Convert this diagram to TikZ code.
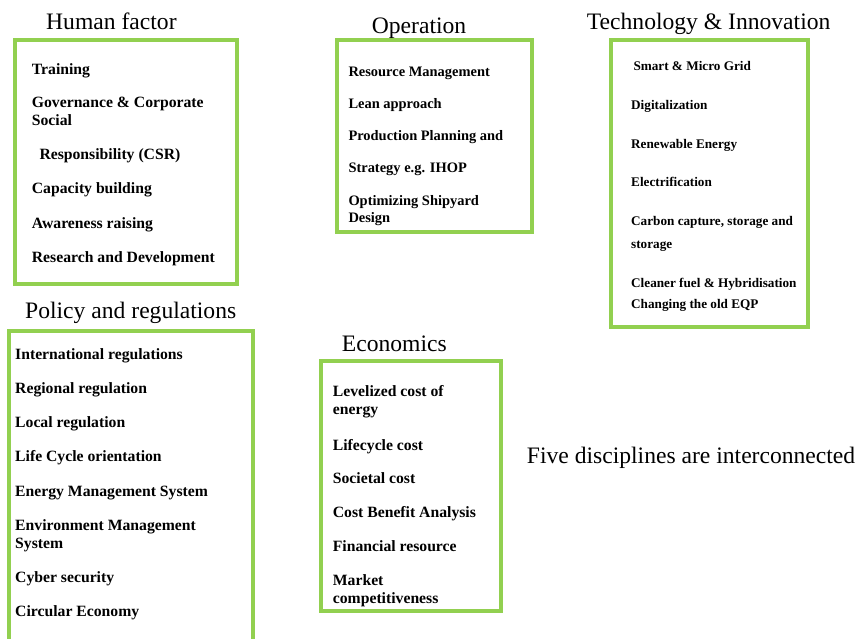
\documentclass[tikz,border=0pt]{standalone}
\usepackage{fontspec}
\setmainfont{Liberation Serif}
\definecolor{boxgreen}{RGB}{146,208,80}
\tikzset{
  x=1pt, y=-1pt,
  panel/.style={draw=boxgreen, line width=4pt},
  ttl/.style={anchor=base west, inner sep=0pt, font=\fontsize{23.6}{26}\selectfont},
  itemA/.style={anchor=base west, inner sep=0pt, font=\fontsize{15.7}{18}\selectfont\bfseries},
  itemB/.style={anchor=base west, inner sep=0pt, font=\fontsize{14.45}{17}\selectfont\bfseries},
  itemC/.style={anchor=base west, inner sep=0pt, font=\fontsize{13.2}{16}\selectfont\bfseries},
}
\begin{document}
\begin{tikzpicture}
\clip (0,0) rectangle (862,638);
\fill[white] (0,0) rectangle (862,638);

% boxes
\draw[panel] (15,40) rectangle (237,284);
\draw[panel] (337,39.5) rectangle (532,232);
\draw[panel] (610.5,39.5) rectangle (808,326.5);
\draw[panel] (8.7,331) rectangle (252.5,660);
\draw[panel] (320.5,361.3) rectangle (501,610.5);

% titles
\node[ttl] (tHum) at (46,29.5) {Human factor};
\node[ttl] (tOp) at (371.7,33) {Operation};
\node[ttl] (tTech) at (586.7,29.5) {Technology \& Innovation};
\node[ttl] (tPol) at (25,318.3) {Policy and regulations};
\node[ttl] (tEco) at (341.7,351.7) {Economics};
\node[ttl] (tFive) at (526.7,463.3) {Five disciplines are interconnected};

% Human factor
\node[itemA] (h1) at (31.7,74) {Training};
\node[itemA] (h2) at (31.7,107.3) {Governance \& Corporate};
\node[itemA] (h2b) at (31.7,125) {Social};
\node[itemA] (h3) at (39.3,159.3) {Responsibility (CSR)};
\node[itemA] (h4) at (31.7,193.3) {Capacity building};
\node[itemA] (h5) at (31.7,228.3) {Awareness raising};
\node[itemA] (h6) at (31.7,262.3) {Research and Development};

% Operation
\node[itemB] (o1) at (348.3,76) {Resource Management};
\node[itemB] (o2) at (348.3,108.3) {Lean approach};
\node[itemB] (o3) at (348.3,140.7) {Production Planning and};
\node[itemB] (o4) at (348.3,172.7) {Strategy e.g. IHOP};
\node[itemB] (o5) at (348.3,205.7) {Optimizing Shipyard};
\node[itemB] (o5b) at (348.3,222.7) {Design};

% Technology
\node[itemC] (t1) at (633.3,70) {Smart \& Micro Grid};
\node[itemC] (t2) at (631,109.3) {Digitalization};
\node[itemC] (t3) at (631,148.3) {Renewable Energy};
\node[itemC] (t4) at (631,186) {Electrification};
\node[itemC] (t5) at (631,225) {Carbon capture, storage and};
\node[itemC] (t5b) at (631,248.3) {storage};
\node[itemC] (t6) at (631,287.3) {Cleaner fuel \& Hybridisation};
\node[itemC] (t7) at (631,308.3) {Changing the old EQP};

% Policy
\node[itemA] (p1) at (15,359) {International regulations};
\node[itemA] (p2) at (15,393.3) {Regional regulation};
\node[itemA] (p3) at (15,427.3) {Local regulation};
\node[itemA] (p4) at (15,461.7) {Life Cycle orientation};
\node[itemA] (p5) at (15,496) {Energy Management System};
\node[itemA] (p6) at (15,530) {Environment Management};
\node[itemA] (p6b) at (15,548.3) {System};
\node[itemA] (p7) at (15,582.3) {Cyber security};
\node[itemA] (p8) at (15,616.7) {Circular Economy};

% Economics
\node[itemA] (e1) at (332.7,396.7) {Levelized cost of};
\node[itemA] (e1b) at (332.7,414.3) {energy};
\node[itemA] (e2) at (332.7,450) {Lifecycle cost};
\node[itemA] (e3) at (332.7,483.3) {Societal cost};
\node[itemA] (e4) at (332.7,517.3) {Cost Benefit Analysis};
\node[itemA] (e5) at (332.7,551.7) {Financial resource};
\node[itemA] (e6) at (332.7,585) {Market};
\node[itemA] (e6b) at (332.7,603.3) {competitiveness};
\end{tikzpicture}
\end{document}
